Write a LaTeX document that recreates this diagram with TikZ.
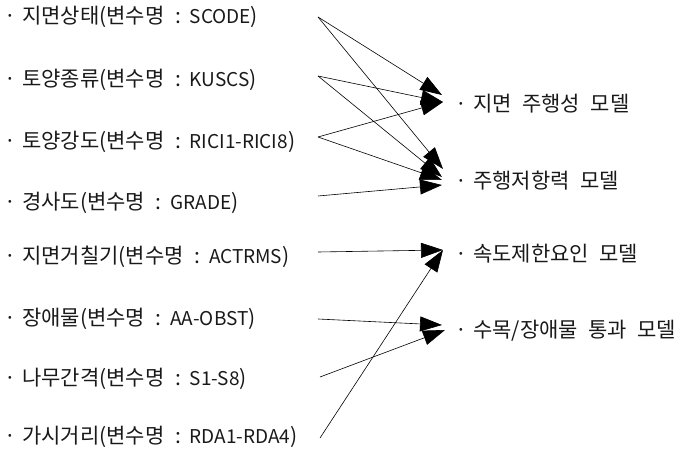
\documentclass[tikz,border=0pt]{standalone}
\usepackage{fontspec}
\setmainfont{Noto Sans CJK KR}
\usetikzlibrary{arrows.meta}
\newcommand{\bulpt}{\makebox[12pt][c]{·}\hspace{6pt}}
\newcommand{\csep}{\hspace{0.5em}:\hspace{0.42em}}
\newcommand{\wsp}{\hspace{0.5em}}
\newcommand{\lat}[1]{{\fontsize{19}{22}\selectfont #1}}
\begin{document}
\begin{tikzpicture}[x=1pt,y=-1pt,
  lbl/.style={anchor=west, inner sep=0pt, text=black!90, font=\fontsize{21}{24}\selectfont},
  conn/.style={-{Triangle[length=22pt,width=15pt]}, line width=0.6pt}]
\useasboundingbox (0,0) rectangle (699,449);
% source labels
\node[lbl] (s1) at (4,17)  {\bulpt 지면상태(변수명\csep\lat{SCODE})};
\node[lbl] (s2) at (4,80)  {\bulpt 토양종류(변수명\csep\lat{KUSCS})};
\node[lbl] (s3) at (4,142) {\bulpt 토양강도(변수명\csep\lat{RICI1-RICI8})};
\node[lbl] (s4) at (4,203) {\bulpt 경사도(변수명\csep\lat{GRADE})};
\node[lbl] (s5) at (4,257) {\bulpt 지면거칠기(변수명\csep\lat{ACTRMS})};
\node[lbl] (s6) at (4,319) {\bulpt 장애물(변수명\csep\lat{AA-OBST})};
\node[lbl] (s7) at (4,379) {\bulpt 나무간격(변수명\csep\lat{S1-S8})};
\node[lbl] (s8) at (4,437) {\bulpt 가시거리(변수명\csep\lat{RDA1-RDA4})};
% target labels
\node[lbl] (m1) at (455,104) {\bulpt 지면\wsp 주행성\wsp 모델};
\node[lbl] (m2) at (455,181) {\bulpt 주행저항력\wsp 모델};
\node[lbl] (m3) at (455,254) {\bulpt 속도제한요인\wsp 모델};
\node[lbl] (m4) at (455,331) {\bulpt 수목/장애물\wsp 통과\wsp 모델};
% connector start points
\coordinate (o1) at (318,17);
\coordinate (o2) at (318,76);
\coordinate (o3) at (318,137);
\coordinate (o4) at (318,196);
\coordinate (o5) at (318,252);
\coordinate (o6) at (318,319);
\coordinate (o7) at (320,377);
\coordinate (o8) at (320,438);
% arrow tips
\coordinate (t1a) at (442,95);
\coordinate (t1b) at (443,102);
\coordinate (t2a) at (443,169);
\coordinate (t2b) at (442,177);
\coordinate (t2c) at (442,180);
\coordinate (t2d) at (442,185);
\coordinate (t3) at (443,250);
\coordinate (t4a) at (442,325);
\coordinate (t4b) at (445,330);
% connectors
\draw[conn] (o1) -- (t1a);
\draw[conn] (o1) -- (t2a);
\draw[conn] (o2) -- (t1b);
\draw[conn] (o2) -- (t2b);
\draw[conn] (o3) -- (t1b);
\draw[conn] (o3) -- (t2c);
\draw[conn] (o4) -- (t2d);
\draw[conn] (o5) -- (t3);
\draw[conn] (o8) -- (t3);
\draw[conn] (o6) -- (t4a);
\draw[conn] (o7) -- (t4b);
\end{tikzpicture}
\end{document}
